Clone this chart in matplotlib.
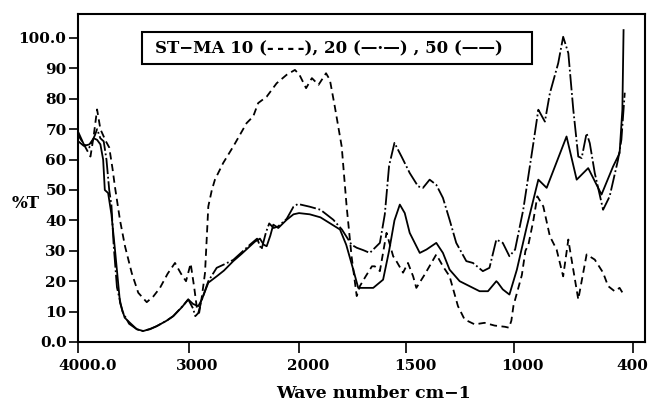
import numpy as np
import matplotlib
matplotlib.use('Agg')
import matplotlib.pyplot as plt
import matplotlib.transforms as mtransforms
from matplotlib.patches import Rectangle

# IR transmission spectra, ST-MA 10 / 20 / 50
wn_10 = [4000, 3950, 3890, 3860, 3830, 3800, 3750, 3720, 3690, 3668, 3622, 3577, 3516, 3457,
         3380, 3320, 3260, 3190, 3124, 3070, 3024, 2995, 2982, 2950, 2925, 2905, 2880, 2852,
         2835, 2822, 2790, 2762, 2687, 2596, 2475, 2415, 2370, 2293, 2203, 2112, 2037, 1998,
         1967, 1940, 1909, 1874, 1856, 1833, 1801, 1778, 1755, 1731, 1716, 1690, 1660, 1647,
         1623, 1592, 1561, 1546, 1515, 1492, 1468, 1453, 1414, 1360, 1329, 1298, 1259, 1228,
         1181, 1135, 1088, 1040, 1021, 1010, 1000, 958, 940, 925, 900, 880, 850, 817, 783,
         750, 724, 716, 674, 632, 591, 549, 524, 491, 466, 441]
t_10 = [68, 65, 61, 68, 76.5, 70, 66, 64, 57, 51, 40, 31.5, 22.7, 16.2,
        13.1, 15, 17.8, 22.5, 26, 22.5, 20, 24, 25.8, 18, 11, 9.6, 15, 22.7,
        35, 44.6, 50, 53.4, 58.9, 64.3, 72, 74.2, 78.6, 80.7, 85.1, 87.9, 89.5, 87.9,
        83.5, 86.8, 84.6, 88.4, 86.2, 77.4, 64.3, 44.6, 28.2, 15.1, 18.4, 21.5, 24.9, 24.9,
        23.3, 35.9, 28.2, 26.6, 22.8, 26, 21.6, 17.8, 22.2, 28.8, 24.9, 21.6, 11.8, 7.4,
        5.8, 6.3, 5.4, 5.0, 4.7, 7, 12, 22, 30, 32, 40, 47.9, 44.6, 34.8, 30.4,
        21.6, 33.7, 30.4, 14, 28.8, 27.1, 22.8, 18.4, 16.7, 17.8, 15.1]

wn_20 = [4000, 3950, 3900, 3850, 3830, 3800, 3770, 3745, 3720, 3700, 3680, 3650, 3600, 3540,
         3470, 3420, 3350, 3290, 3200, 3140, 3050, 3004, 2960, 2940, 2913, 2880, 2822, 2746,
         2680, 2596, 2520, 2445, 2380, 2340, 2300, 2270, 2230, 2190, 2112, 2050, 2010, 1950,
         1900, 1840, 1800, 1755, 1731, 1700, 1670, 1623, 1600, 1580, 1555, 1522, 1484, 1445,
         1422, 1391, 1360, 1329, 1298, 1267, 1220, 1189, 1143, 1112, 1080, 1050, 1019, 992,
         951, 900, 875, 842, 817, 775, 750, 724, 699, 674, 657, 632, 616, 591, 549, 516,
         474, 457, 440]
t_20 = [69, 65, 64, 68, 70, 67, 66, 60, 50, 45, 32, 18, 10, 6,
        4.2, 3.6, 4.2, 5.2, 7, 8.5, 12, 14, 11, 8.5, 9.5, 14, 20, 24.4,
        25.5, 27, 29.5, 32, 34, 30.4, 36, 39, 37.5, 38, 40.5, 44.5, 45.4, 44.5,
        43.5, 40.2, 37, 32, 31, 30.2, 29.3, 32.6, 42, 58, 65.5, 61, 55.6, 51.2,
        50.7, 53.4, 51.7, 47.4, 40.2, 32.6, 26.6, 26, 23.3, 24.4, 33.7, 32.6, 28.2, 30.4,
        43.5, 65.4, 76.4, 72.5, 81.8, 91.7, 100.4, 95, 76.4, 61, 60.5, 68.7, 65.4, 55.6, 43.5, 47.9,
        59.9, 66.5, 82]

wn_50 = [4000, 3950, 3900, 3860, 3830, 3800, 3775, 3760, 3730, 3700, 3668, 3622, 3580, 3532,
         3470, 3411, 3350, 3290, 3200, 3140, 3060, 3004, 2960, 2913, 2880, 2822, 2746, 2680,
         2596, 2520, 2445, 2400, 2354, 2320, 2293, 2260, 2233, 2188, 2112, 2050, 2000, 1950,
         1900, 1809, 1780, 1747, 1724, 1700, 1654, 1608, 1580, 1555, 1530, 1507, 1484, 1437,
         1406, 1360, 1329, 1298, 1251, 1220, 1158, 1119, 1080, 1073, 1050, 1019, 983, 933,
         875, 833, 733, 682, 624, 557, 499, 466, 452, 446]
t_50 = [66, 64.5, 65, 67, 66.5, 65, 60, 50, 49, 42, 30.4, 12.9, 8, 6.3,
        4.2, 3.6, 4.3, 5.2, 7, 8.5, 11.5, 14, 12.5, 11.8, 14, 19.5, 21.6, 23.5,
        26.6, 29, 31.5, 33, 34, 32, 31.5, 35, 38.6, 37.5, 40.2, 42, 42.4, 42,
        41, 37, 32, 23.8, 17.8, 17.8, 17.8, 20.5, 30, 40, 45.2, 42.4, 35.9, 29.3,
        30.4, 32.6, 29.3, 23.8, 20, 18.9, 16.7, 16.7, 20, 19.5, 17.3, 15.6, 23.8, 38,
        53.4, 50.7, 67.6, 53.4, 57.2, 48.5, 57.7, 62.1, 76.4, 102.6]

x_ticks = [4000, 3000, 2000, 1500, 1000, 400]
x_labels = ['4000.0', '3000', '2000', '1500', '1000', '400']
y_ticks = [0, 10, 20, 30, 40, 50, 60, 70, 80, 90, 100]
y_labels = ['0.0', '10', '20', '30', '40', '50', '60', '70', '80', '90', '100.0']

# chart paper is compressed above 2000 cm-1
XP = [338, 400, 1000, 2000, 4000]
FP = [0.0, 12.3, 131.5, 346.0, 566.7]


def fwd(x):
    return np.interp(x, XP, FP)


def inv(y):
    return np.interp(y, FP, XP)


plt.rcParams['font.family'] = 'DejaVu Serif'
plt.rcParams['font.weight'] = 'bold'

fig = plt.figure(figsize=(6.5, 4.03), dpi=100)
ax = fig.add_axes([0.1205, 0.1514, 0.8718, 0.8139])
ax.set_xscale('function', functions=(fwd, inv))

ax.plot(wn_10, t_10, color='black', lw=1.3, ls=(0, (4, 2.5)))
ax.plot(wn_20, t_20, color='black', lw=1.3, ls=(0, (9, 1.5, 1, 1.5)))
ax.plot(wn_50, t_50, color='black', lw=1.3, ls='-')

ax.set_xlim(4000, 338)
ax.set_ylim(0, 107.9)
ax.set_xticks(x_ticks)
ax.set_xticklabels(x_labels)
ax.set_yticks(y_ticks)
ax.set_yticklabels(y_labels)
ax.tick_params(axis='x', direction='out', length=8, width=1.2, pad=4, labelsize=11)
ax.tick_params(axis='y', direction='out', length=6.5, width=1.2, pad=2, labelsize=11)
ax.minorticks_off()
for s in ax.spines.values():
    s.set_linewidth(1.5)

# tick labels sit a little to the right of their marks (except the last one)
shift = mtransforms.ScaledTranslation(9 / 100, 0, fig.dpi_scale_trans)
for lab in ax.get_xticklabels()[:-1]:
    lab.set_transform(lab.get_transform() + shift)

ax.add_patch(Rectangle((0.1124, 0.8476), 0.6882, 0.0976, transform=ax.transAxes,
                       fill=False, lw=1.5, ec='black'))
ax.text(0.1353, 0.894,
        'ST\u2212MA 10 (-\u2009-\u2009-\u2009-), 20 (\u2014\u00b7\u2014) , 50 (\u2014\u2014)',
        transform=ax.transAxes, ha='left', va='center', fontsize=12, fontweight='bold')

fig.text(12 / 650, 1 - 203 / 403, '%T', ha='left', va='center', fontsize=12, fontweight='bold')
fig.text(373 / 650, 1 - 393 / 403, 'Wave number cm\u22121', ha='center', va='center',
         fontsize=12.5, fontweight='bold')

fig.savefig('out.png', dpi=100)
